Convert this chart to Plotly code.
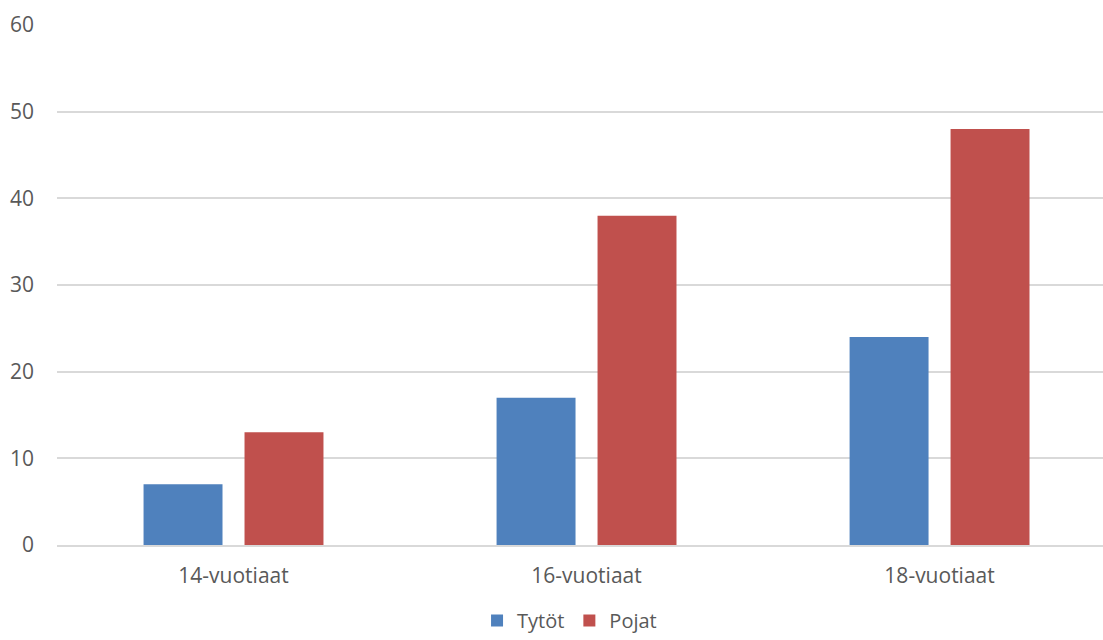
import plotly.graph_objects as go

categories = ["14-vuotiaat", "16-vuotiaat", "18-vuotiaat"]
tytot = [7, 17, 24]
pojat = [13, 38, 48]
y_ticks = [0, 10, 20, 30, 40, 50, 60]

FONT = "Open Sans, Liberation Sans, sans-serif"
TXT = "#595959"

fig = go.Figure()
fig.add_trace(go.Bar(x=[0, 1, 2], y=tytot, name="Tytöt", marker=dict(color="#4F81BD", line=dict(width=0))))
fig.add_trace(go.Bar(x=[0, 1, 2], y=pojat, name="Pojat", marker=dict(color="#C0504D", line=dict(width=0))))

fig.update_layout(
    width=1103, height=640,
    margin=dict(l=57, r=0, t=25, b=95, autoexpand=False),
    paper_bgcolor="white", plot_bgcolor="white",
    barmode="group", bargap=0.428, bargroupgap=0.218,
    font=dict(family=FONT, color=TXT, size=21),
    legend=dict(orientation="h", x=0.49, xanchor="center", yref="container", y=-0.008, yanchor="bottom",
                font=dict(size=20, color=TXT), itemwidth=30, traceorder="normal"),
    xaxis=dict(range=[-0.5, 2.463], tickmode="array", tickvals=[0, 1, 2], ticktext=categories,
               showgrid=False, zeroline=False, showline=True, linecolor="#D9D9D9", linewidth=2,
               ticks="", ticklabelstandoff=11, tickfont=dict(size=21, color=TXT), fixedrange=True),
    yaxis=dict(range=[0, 60], tickvals=y_ticks, showgrid=True, gridcolor="#D9D9D9", gridwidth=2,
               zeroline=False, showline=False, ticks="", ticklabelstandoff=22,
               tickfont=dict(size=21, color=TXT), fixedrange=True),
)
fig.write_html("out.html")
